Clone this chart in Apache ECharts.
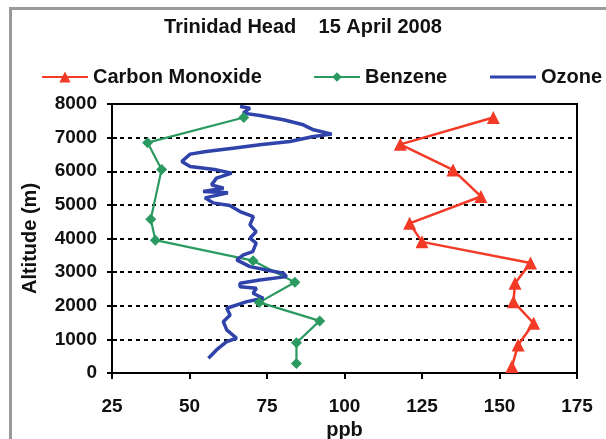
<!DOCTYPE html>
<html><head><meta charset="utf-8">
<script src="https://cdn.jsdelivr.net/npm/echarts@6/dist/echarts.min.js"></script>
<style>html,body{margin:0;padding:0;background:#fff}#c{width:606px;height:439px}</style>
</head><body><div id="c"></div>
<script>
// Carbon Monoxide [ppb, altitude m]
var coPpb = [148, 118, 135, 144, 121, 125, 160, 155, 154.5, 161, 156, 154];
var coAlt = [7600, 6800, 6040, 5250, 4450, 3900, 3270, 2670, 2120, 1480, 830, 190];
// Benzene
var bzPpb = [67.5, 36.5, 41, 37.5, 39, 70.5, 84, 72.5, 92, 84.5, 84.5];
var bzAlt = [7600, 6850, 6050, 4570, 3950, 3340, 2700, 2100, 1550, 900, 280];
// Ozone
var o3Ppb = [66.3, 69.5, 67.3, 72.7, 80.3, 86.7, 90, 95.9, 90, 82.4, 72.7, 64, 55.4, 50.2, 47.5, 50.2, 58.7, 63.6, 58.7, 57.1,
  61, 54.4, 62.4, 55, 57.6, 63, 66.3, 70.6, 69.5, 71.5, 69.5, 71.5, 70.4, 67.4, 65.2, 69.5, 74.9, 80.3, 81.3,
  72.7, 66.3, 66.3, 71.6, 70.5, 73.8, 68.5, 62, 63.1, 60.9, 62, 65.2, 62, 58.7, 56.1];
var o3Alt = [7926, 7877, 7729, 7658, 7530, 7381, 7232, 7104, 7033, 6884, 6786, 6687, 6586, 6509, 6289, 6140, 6042, 5943, 5795, 5595,
  5497, 5396, 5357, 5208, 5060, 4980, 4801, 4652, 4405, 4205, 4008, 3860, 3610, 3512, 3363, 3164, 3065, 2967, 2866,
  2768, 2670, 2568, 2520, 2372, 2223, 2122, 1926, 1726, 1527, 1280, 1033, 932, 685, 437];
var xTicks = [25, 50, 75, 100, 125, 150, 175];
var yTicks = [0, 1000, 2000, 3000, 4000, 5000, 6000, 7000, 8000];

function pairs(a, b) { return a.map(function (v, i) { return [v, b[i]]; }); }
var F = 'Liberation Sans, Arial, sans-serif';
var TXT = {fontFamily: F, fontWeight: 'bold', fontSize: 20, color: '#111'};
var chart = echarts.init(document.getElementById('c'), null, {renderer: 'canvas'});
function leg(item, left, h) {
  return {data: [item], left: left, top: 62, itemWidth: 46, itemHeight: h, itemGap: 4,
    textStyle: TXT, selectedMode: false};
}
var yMin = yTicks[0], yMax = yTicks[yTicks.length - 1];
chart.setOption({
  animation: false,
  backgroundColor: '#fff',
  title: {text: 'Trinidad Head    15 April 2008', left: 'center', top: 12, textStyle: TXT},
  legend: [
    leg('Carbon Monoxide', 36, 14),
    leg('Benzene', 308, 12),
    leg({name: 'Ozone', icon: 'rect'}, 485, 3)
  ],
  grid: {left: 112, right: 29, top: 104, bottom: 66, show: true, borderColor: '#000', borderWidth: 2,
    containLabel: false, outerBoundsMode: 'none'},
  xAxis: {type: 'value', min: xTicks[0], max: xTicks[xTicks.length - 1], interval: 25,
    name: 'ppb', nameLocation: 'middle', nameGap: 37, nameTextStyle: TXT,
    axisLine: {lineStyle: {color: '#000', width: 2}},
    axisTick: {show: true, length: 6, lineStyle: {color: '#000', width: 2}},
    axisLabel: {fontFamily: F, fontWeight: 'bold', fontSize: 19, color: '#111', margin: 24},
    splitLine: {show: false}},
  yAxis: [{type: 'value', min: yMin, max: yMax, interval: 1000,
    name: 'Altitude (m)', nameLocation: 'middle', nameGap: 72, nameTextStyle: TXT,
    axisLine: {lineStyle: {color: '#000', width: 2}},
    axisTick: {show: true, length: 5, lineStyle: {color: '#000', width: 2}},
    axisLabel: {fontFamily: F, fontWeight: 'bold', fontSize: 19, color: '#111', margin: 15,
      formatter: function (v) { return String(v); }},
    splitLine: {show: true, lineStyle: {color: '#000', width: 2, type: [4, 4]}}},
   {type: 'value', min: yMin, max: yMax, interval: 1000, position: 'left',
    axisLine: {show: false}, axisLabel: {show: false}, splitLine: {show: false},
    axisTick: {show: true, inside: true, length: 5, lineStyle: {color: '#000', width: 2}}}],
  graphic: [{type: 'rect', left: 8, top: 6, shape: {width: 700, height: 500},
    style: {fill: 'none', stroke: '#9a9a9a', lineWidth: 3}, silent: true}],
  series: [
    {name: 'Carbon Monoxide', type: 'line', data: pairs(coPpb, coAlt), symbol: 'triangle', symbolSize: 13,
      lineStyle: {color: '#f23a26', width: 2.5}, itemStyle: {color: '#f23a26'}},
    {name: 'Benzene', type: 'line', data: pairs(bzPpb, bzAlt), symbol: 'diamond', symbolSize: 11,
      lineStyle: {color: '#2a9a60', width: 2.2}, itemStyle: {color: '#2a9a60'}},
    {name: 'Ozone', type: 'line', data: pairs(o3Ppb, o3Alt), symbol: 'none', showSymbol: false,
      lineStyle: {color: '#2f43aa', width: 3.5}, itemStyle: {color: '#2f43aa'}}
  ]
});
</script></body></html>
